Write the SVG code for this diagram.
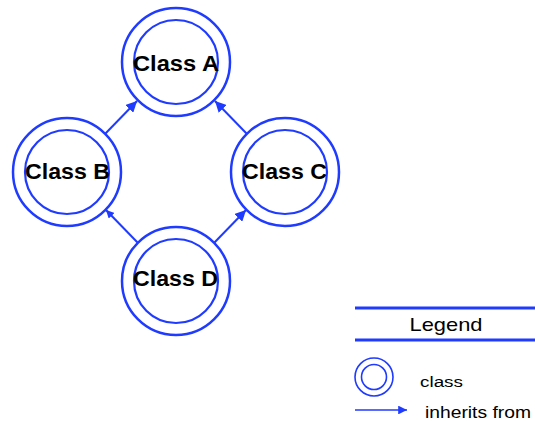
<svg xmlns="http://www.w3.org/2000/svg" width="535" height="421" viewBox="0 0 535 421">
<style>
.outer{fill:none;stroke:#1f3bff;stroke-width:2.5}
.inner{fill:none;stroke:#1f3bff;stroke-width:2.2}
.lbl{font-family:"Liberation Sans",Arial,sans-serif;font-weight:bold;font-size:22px;fill:#000;text-anchor:middle}
.edge{stroke:#1f3bff;stroke-width:2;fill:none}
.leg{font-family:"Liberation Sans",Arial,sans-serif;fill:#000}
.rule{stroke:#1f3bff;stroke-width:3}
</style>
<defs>
<marker id="ah" viewBox="0 0 10 10" refX="10" refY="5" markerWidth="5.5" markerHeight="5.5" markerUnits="strokeWidth" orient="auto">
<path d="M0,0 L10,5 L0,10 z" fill="#1f3bff"/>
</marker>
<marker id="ahs" viewBox="0 0 10 10" refX="10" refY="5" markerWidth="4" markerHeight="4" markerUnits="strokeWidth" orient="auto">
<path d="M0,0 L10,5 L0,10 z" fill="#1f3bff"/>
</marker>
</defs>
<g id="connectors">
<line class="edge" x1="105" y1="134" x2="137" y2="101" marker-end="url(#ah)"/>
<line class="edge" x1="247" y1="134" x2="215" y2="101" marker-end="url(#ah)"/>
<line class="edge" x1="138" y1="243" x2="106" y2="210" stroke-width="2.6" marker-end="url(#ahs)"/>
<line class="edge" x1="214" y1="243" x2="246" y2="210" marker-end="url(#ah)"/>
</g>
<g id="classA">
<circle class="outer" cx="176" cy="62" r="54"/>
<circle class="inner" cx="176" cy="62" r="42"/>
<text class="lbl" x="176" y="71" textLength="86" lengthAdjust="spacingAndGlyphs">Class A</text>
</g>
<g id="classB">
<circle class="outer" cx="67" cy="172" r="54"/>
<circle class="inner" cx="67" cy="172" r="42"/>
<text class="lbl" x="67.5" y="179" textLength="85" lengthAdjust="spacingAndGlyphs">Class B</text>
</g>
<g id="classC">
<circle class="outer" cx="285" cy="172" r="54"/>
<circle class="inner" cx="285" cy="172" r="42"/>
<text class="lbl" x="284.5" y="179" textLength="85" lengthAdjust="spacingAndGlyphs">Class C</text>
</g>
<g id="classD">
<circle class="outer" cx="176" cy="281" r="54"/>
<circle class="inner" cx="176" cy="281" r="42"/>
<text class="lbl" x="175.5" y="286" textLength="85" lengthAdjust="spacingAndGlyphs">Class D</text>
</g>
<g id="legend">
<line class="rule" x1="355" y1="308" x2="535" y2="308"/>
<text class="leg" x="446" y="331" font-size="19" text-anchor="middle" textLength="73" lengthAdjust="spacingAndGlyphs">Legend</text>
<line class="rule" x1="355" y1="340" x2="535" y2="340"/>
<circle cx="374" cy="377" r="19" fill="none" stroke="#1f3bff" stroke-width="1.6"/>
<circle cx="374" cy="377" r="12.5" fill="none" stroke="#1f3bff" stroke-width="1.6"/>
<text class="leg" x="420" y="387" font-size="14" textLength="43" lengthAdjust="spacingAndGlyphs">class</text>
<line x1="355" y1="410" x2="407" y2="410" stroke="#1f3bff" stroke-width="1.6" marker-end="url(#ah)"/>
<text class="leg" x="425" y="418" font-size="17" textLength="106" lengthAdjust="spacingAndGlyphs">inherits from</text>
</g>
</svg>
